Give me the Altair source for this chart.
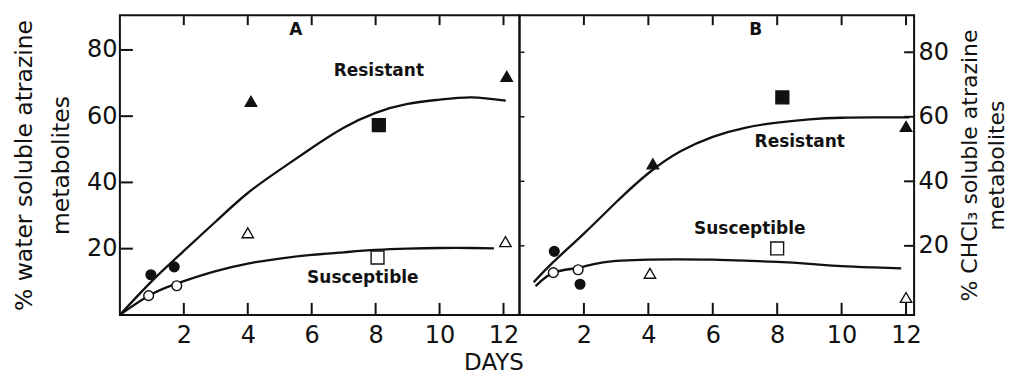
import altair as alt
import pandas as pd

# ---------------- data ----------------
x_ticks = [2, 4, 6, 8, 10, 12]
y_ticks = [20, 40, 60, 80]

# Panel A (water soluble)
A_fc_x, A_fc_y = [0.97, 1.7], [12.1, 14.5]          # filled circles
A_oc_x, A_oc_y = [0.9, 1.78], [5.8, 8.8]            # open circles
A_ft_x, A_ft_y = [4.1, 12.1], [64.5, 72.0]          # filled triangles
A_fs_x, A_fs_y = [8.1], [57.3]                      # filled square
A_ot_x, A_ot_y = [4.0, 12.06], [24.8, 22.1]         # open triangles
A_os_x, A_os_y = [8.06], [17.3]                     # open square

A_res_x = [0, 1, 2, 3, 4, 5, 6, 7, 8, 9, 10, 11, 12.07]
A_res_y = [0, 10.2, 19.3, 28.2, 36.8, 43.8, 50.4, 56.5, 61, 63.7, 65, 65.7, 64.7]
A_sus_x = [0, 1, 2, 3, 4, 5, 6, 7, 8, 9, 10, 11, 11.7]
A_sus_y = [0, 6.3, 10.2, 13.2, 15.5, 17, 18.1, 18.9, 19.6, 20, 20.2, 20.2, 20.1]

# Panel B (CHCl3 soluble)
B_fc_x, B_fc_y = [1.08, 1.88], [18.3, 8.1]
B_oc_x, B_oc_y = [1.05, 1.82], [11.7, 12.6]
B_ft_x, B_ft_y = [4.14, 12.0], [45.4, 57.0]
B_fs_x, B_fs_y = [8.16], [66.0]
B_ot_x, B_ot_y = [4.05, 12.0], [11.5, 4.0]
B_os_x, B_os_y = [8.0], [19.2]

B_res_x = [0.44, 1, 2, 3, 4, 5, 6, 7, 8, 9, 10, 11, 12.1]
B_res_y = [8.7, 14.5, 23.8, 33.5, 42.5, 49.3, 53.8, 56.6, 58.2, 59.2, 59.7, 59.8, 59.8]
B_sus_x = [0.5, 1.06, 1.83, 2.6, 4, 5, 6, 7, 8, 9, 10, 11, 11.85]
B_sus_y = [7.5, 11.7, 13.2, 14.9, 15.7, 15.8, 15.7, 15.4, 15, 14.4, 13.7, 13.3, 13.0]

A_labels = ["A", "Resistant", "Susceptible"]
A_lab_x = [5.5, 8.1, 7.6]
A_lab_y = [86, 73.5, 11]
B_labels = ["B", "Resistant", "Susceptible"]
B_lab_x = [7.33, 8.7, 7.15]
B_lab_y = [87, 52.1, 25.1]

FONT = "DejaVu Sans"
INK = "#111111"


def points_df(groups):
    rows = []
    for xs, ys, shape, fill in groups:
        for x, y in zip(xs, ys):
            rows.append({"x": x, "y": y, "shape": shape, "fill": fill})
    return pd.DataFrame(rows)


def curves_df(curves):
    rows = []
    for name, xs, ys in curves:
        for x, y in zip(xs, ys):
            rows.append({"x": x, "y": y, "series": name})
    return pd.DataFrame(rows)


def panel(pts, crv, labs, xdom, ydom, W, H, side):
    xs = alt.Scale(domain=xdom, nice=False, zero=False)
    ys = alt.Scale(domain=ydom, nice=False, zero=False)
    ax_font = dict(labelFont=FONT, labelFontSize=24, labelColor=INK,
                   titleFont=FONT, titleColor=INK,
                   titleFontWeight="normal", ticks=False, domain=False, grid=False)
    if side == "left":
        xaxis = alt.Axis(values=x_ticks, labelPadding=9, title="DAYS",
                         titleX=374, titleY=60, titleAlign="center", titleFontSize=23,
                         titleBaseline="bottom", labelFlush=False, **ax_font)
        yaxis = alt.Axis(values=y_ticks, orient="left", labelPadding=3,
                         title=["% water soluble atrazine", "metabolites"],
                         titleFontSize=23.5, titleLineHeight=37, titlePadding=13, **ax_font)
    else:
        xaxis = alt.Axis(values=x_ticks, labelPadding=9, title=None,
                         labelFlush=False, **ax_font)
        yaxis = alt.Axis(values=y_ticks, orient="right", labelPadding=4,
                         title=["% CHCl\u2083 soluble atrazine", "metabolites"],
                         titleAngle=270, titleBaseline="top", titleFontSize=22,
                         titleLineHeight=27, titlePadding=-16, **ax_font)

    def X(f):
        return alt.X(f + ":Q", scale=xs, axis=xaxis)

    def Y(f):
        return alt.Y(f + ":Q", scale=ys, axis=yaxis)

    lines = alt.Chart(crv).mark_line(color=INK, strokeWidth=2.3, interpolate="natural").encode(
        x=X("x"), y=Y("y"), detail="series:N",
    )
    marks = alt.Chart(pts).mark_point(stroke=INK, strokeWidth=1.4, opacity=1, fillOpacity=1).encode(
        x=X("x"), y=Y("y"),
        shape=alt.Shape("shape:N", scale=alt.Scale(domain=["circle", "triangle-up", "square"],
                                                   range=["circle", "triangle-up", "square"]), legend=None),
        size=alt.Size("shape:N", scale=alt.Scale(domain=["circle", "triangle-up", "square"],
                                                 range=[95, 165, 65]), legend=None),
        fill=alt.Fill("fill:N", scale=alt.Scale(domain=["filled", "open"], range=[INK, "white"]), legend=None),
    )
    text = alt.Chart(labs).mark_text(font=FONT, fontSize=17, fontWeight="bold", color=INK).encode(
        x=X("x"), y=Y("y"), text="t:N",
    )
    xt = pd.DataFrame({"x": x_ticks})
    yt = pd.DataFrame({"y": y_ticks})
    bt = alt.Chart(xt).mark_rule(color=INK, strokeWidth=2).encode(
        x=X("x"), y=alt.value(H), y2=alt.value(H - 12))
    tt = alt.Chart(xt).mark_rule(color=INK, strokeWidth=2).encode(
        x=X("x"), y=alt.value(1), y2=alt.value(10))
    layers = [bt, tt]
    if side == "left":
        layers.append(alt.Chart(yt).mark_rule(color=INK, strokeWidth=2).encode(
            y=Y("y"), x=alt.value(1), x2=alt.value(13)))
    else:
        layers.append(alt.Chart(yt).mark_rule(color=INK, strokeWidth=2).encode(
            y=Y("y"), x=alt.value(W - 1), x2=alt.value(W - 10)))
        layers.append(alt.Chart(yt).mark_rule(color=INK, strokeWidth=1.5).encode(
            y=Y("y"), x=alt.value(1), x2=alt.value(5)))
    return alt.layer(lines, *layers, marks, text).properties(width=W, height=H)


A_pts = points_df([
    (A_fc_x, A_fc_y, "circle", "filled"), (A_oc_x, A_oc_y, "circle", "open"),
    (A_ft_x, A_ft_y, "triangle-up", "filled"), (A_fs_x, A_fs_y, "square", "filled"),
    (A_ot_x, A_ot_y, "triangle-up", "open"), (A_os_x, A_os_y, "square", "open"),
])
B_pts = points_df([
    (B_fc_x, B_fc_y, "circle", "filled"), (B_oc_x, B_oc_y, "circle", "open"),
    (B_ft_x, B_ft_y, "triangle-up", "filled"), (B_fs_x, B_fs_y, "square", "filled"),
    (B_ot_x, B_ot_y, "triangle-up", "open"), (B_os_x, B_os_y, "square", "open"),
])
A_crv = curves_df([("res", A_res_x, A_res_y), ("sus", A_sus_x, A_sus_y)])
B_crv = curves_df([("res", B_res_x, B_res_y), ("sus", B_sus_x, B_sus_y)])
A_lab = pd.DataFrame({"t": A_labels, "x": A_lab_x, "y": A_lab_y})
B_lab = pd.DataFrame({"t": B_labels, "x": B_lab_x, "y": B_lab_y})

left = panel(A_pts, A_crv, A_lab, [0, 12.5], [0, 90.5], 400, 300, "left")
right = panel(B_pts, B_crv, B_lab, [0, 12.25], [-1.4, 91.5], 395, 300, "right")

chart = alt.hconcat(left, right, spacing=0, bounds="flush").properties(
    padding={"left": 3, "top": 6, "right": 0, "bottom": 0}
).configure(background="white").configure_view(stroke=INK, strokeWidth=2)

chart.save("out.html", embed_options={"renderer": "svg", "actions": False})
